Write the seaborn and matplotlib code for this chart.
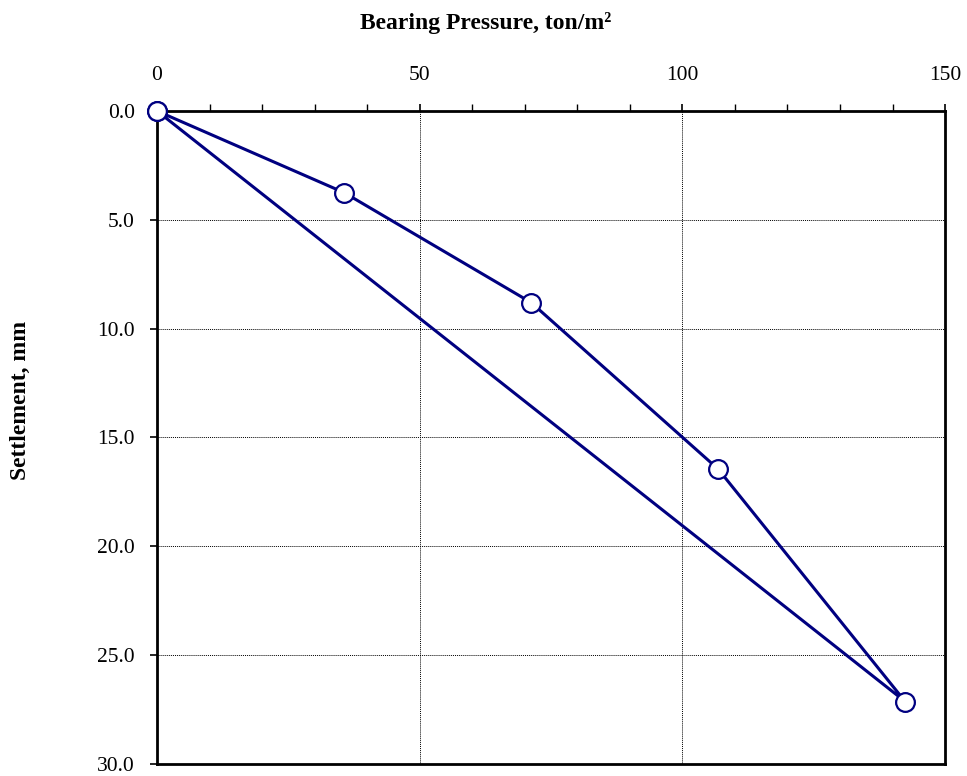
import pandas as pd
import seaborn as sns
import matplotlib.pyplot as plt
from matplotlib.ticker import MultipleLocator

# plate load test: loading then unloading back to zero
pressure = [0, 35.6, 71.2, 106.8, 142.4, 0]
settlement = [0, 3.75, 8.8, 16.45, 27.13, 0]
x_ticks = [0, 50, 100, 150]
y_ticks = [0, 5, 10, 15, 20, 25, 30]

df = pd.DataFrame({"Pressure": pressure, "Settlement": settlement})

sns.set_style("white")
plt.rcParams["font.family"] = ["Liberation Serif", "DejaVu Serif"]
plt.rcParams["text.color"] = "black"
plt.rcParams["xtick.color"] = "black"
plt.rcParams["ytick.color"] = "black"

fig = plt.figure(figsize=(9.67, 7.76), dpi=100)
ax = fig.add_axes([0.1624, 0.0155, 0.8149, 0.8415])

sns.lineplot(data=df, x="Pressure", y="Settlement", sort=False, estimator=None,
             color="#000080", linewidth=2.2, marker="o", markersize=13.5,
             markerfacecolor="white", markeredgecolor="#000080",
             markeredgewidth=1.6, ax=ax, zorder=5, clip_on=False)

ax.set_xlim(0, 150)
ax.set_ylim(30, 0)
ax.xaxis.tick_top()
ax.set_xticks(x_ticks)
ax.xaxis.set_minor_locator(MultipleLocator(10))
ax.set_yticks(y_ticks)
ax.set_yticklabels([f"{v:.1f}" for v in y_ticks])

ax.tick_params(axis="x", which="major", direction="out", length=5, width=1.2,
               labelsize=15.5, pad=14)
ax.tick_params(axis="x", which="minor", direction="out", length=5, width=1.0,
               top=True, bottom=False)
ax.tick_params(axis="y", which="major", direction="out", length=5, width=1.2,
               labelsize=15.5, pad=11, left=True)

ax.grid(True, which="major", color="black", linestyle=(0, (1, 1)), linewidth=0.7)

for s in ax.spines.values():
    s.set_color("black")
    s.set_linewidth(2)

ax.set_xlabel("")
ax.set_ylabel("")
fig.text(0.5025, 0.971, "Bearing Pressure, ton/m²", fontsize=17, fontweight="bold",
         ha="center", va="center")
fig.text(0.0207, 0.4845, "Settlement, mm", fontsize=17, fontweight="bold",
         ha="center", va="center", rotation=90)

fig.savefig("out.png", dpi=100)
